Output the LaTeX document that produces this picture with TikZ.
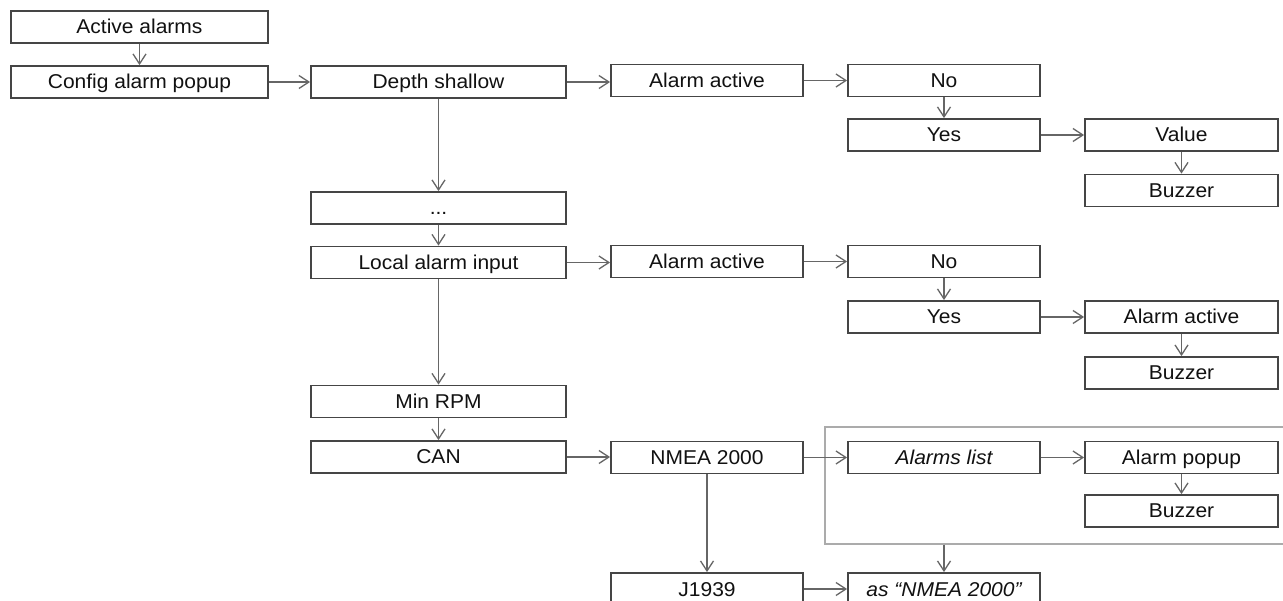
\documentclass[tikz,border=0pt]{standalone}
\usepackage{fontspec}
\setmainfont[FakeStretch=1.05]{Liberation Sans}
\usetikzlibrary{arrows.meta}
\definecolor{boxc}{HTML}{454545}
\definecolor{arrc}{HTML}{666666}
\definecolor{txtc}{HTML}{111111}
\definecolor{framec}{HTML}{ABABAB}
\begin{document}
\begin{tikzpicture}[x=1pt,y=-1pt,
  box/.style={draw=boxc, line width=1.8pt, fill=white, minimum height=32pt, inner sep=0pt,
    text height=14pt, text depth=0pt, font=\fontsize{20}{24}\selectfont, text=txtc},
  colA/.style={box, minimum width=257pt},
  colB/.style={box, minimum width=255pt},
  colC/.style={box, minimum width=192pt},
  colD/.style={box, minimum width=192pt},
  colE/.style={box, minimum width=193pt},
  link/.style={draw=arrc, line width=1.3pt, -{Straight Barb[length=10pt,width=13pt,line width=1.3pt]}},
  framebox/.style={draw=framec, line width=1.4pt, inner sep=0pt}
  ]
\clip (0,0) rectangle (1283,601);
\fill[white] (0,0) rectangle (1283,601);

% frame
\node[framebox, minimum width=470pt, minimum height=117pt] (frame) at (1060,485.5) {};

% column A
\node[colA] (act) at (139.5,27) {Active alarms};
\node[colA] (cfg) at (139.5,82) {Config alarm popup};

% column B
\node[colB] (depth) at (438.5,82) {Depth shallow};
\node[colB] (dots) at (438.5,208) {...};
\node[colB] (local) at (438.5,262.5) {Local alarm input};
\node[colB] (rpm) at (438.5,401.5) {Min RPM};
\node[colB] (can) at (438.5,457) {CAN};

% column C
\node[colC] (aa1) at (707,80.5) {Alarm active};
\node[colC] (aa2) at (707,261.5) {Alarm active};
\node[colC] (nmea) at (707,457.5) {NMEA 2000};
\node[colC] (j1939) at (707,589) {J1939};

% column D
\node[colD] (no1) at (944,80.5) {No};
\node[colD] (yes1) at (944,135) {Yes};
\node[colD] (no2) at (944,261.5) {No};
\node[colD] (yes2) at (944,317) {Yes};
\node[colD] (alist) at (944,457.5) {\itshape Alarms list};
\node[colD] (asn) at (944,589) {\itshape as “NMEA 2000”};

% column E
\node[colE] (value) at (1181.5,135) {Value};
\node[colE] (buz1) at (1181.5,190.5) {Buzzer};
\node[colE] (aa3) at (1181.5,317) {Alarm active};
\node[colE] (buz2) at (1181.5,373) {Buzzer};
\node[colE] (popup) at (1181.5,457.5) {Alarm popup};
\node[colE] (buz3) at (1181.5,511) {Buzzer};

% connectors
\draw[link] (act) -- (cfg);
\draw[link] (cfg) -- (depth);
\draw[link] (depth.east) -- (depth.east -| aa1.west);
\draw[link] (aa1) -- (no1);
\draw[link] (no1) -- (yes1);
\draw[link] (yes1) -- (value);
\draw[link] (value) -- (buz1);
\draw[link] (depth) -- (dots);
\draw[link] (dots) -- (local);
\draw[link] (local.east) -- (local.east -| aa2.west);
\draw[link] (aa2) -- (no2);
\draw[link] (no2) -- (yes2);
\draw[link] (yes2.east) -- (yes2.east -| aa3.west);
\draw[link] (aa3) -- (buz2);
\draw[link] (local) -- (rpm);
\draw[link] (rpm) -- (can);
\draw[link] (can.east) -- (can.east -| nmea.west);
\draw[link] (nmea) -- (alist);
\draw[link] (alist) -- (popup);
\draw[link] (popup) -- (buz3);
\draw[link] (nmea) -- (j1939);
\draw[link] (j1939) -- (asn);
\draw[link] (frame.south -| asn.north) -- (asn.north);
\end{tikzpicture}
\end{document}
